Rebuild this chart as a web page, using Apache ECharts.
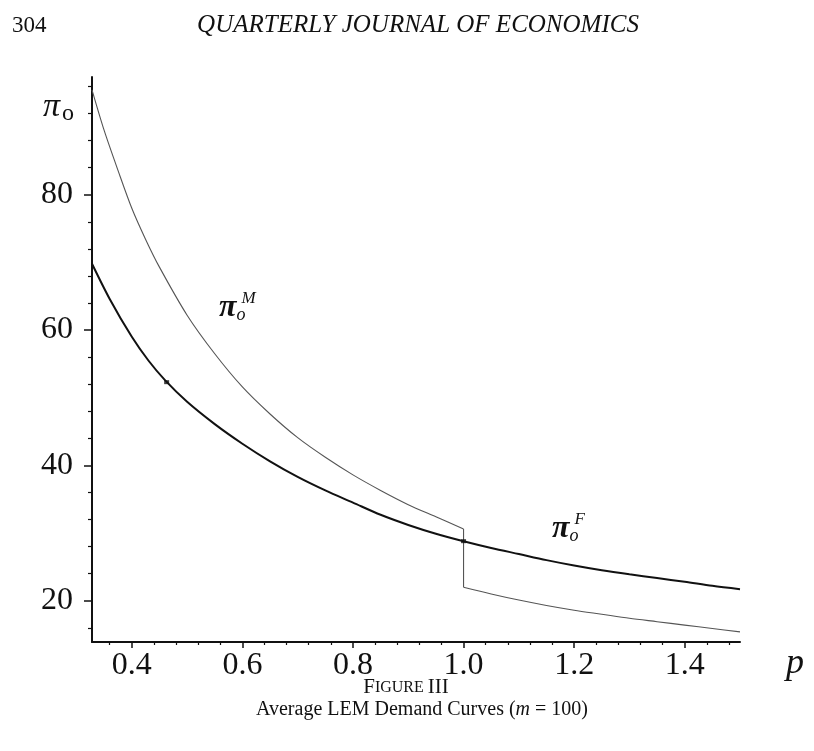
<!DOCTYPE html>
<html>
<head>
<meta charset="utf-8">
<script src="https://cdn.jsdelivr.net/npm/echarts@6/dist/echarts.min.js"></script>
<style>
html,body{margin:0;padding:0;background:#fff;}
#c{width:814px;height:751px;}
</style>
</head>
<body>
<div id="c"></div>
<script>
// ---- data ----
const pF = [0.328, 0.36, 0.40, 0.43, 0.46, 0.50, 0.55, 0.60, 0.65, 0.70, 0.75, 0.80, 0.85, 0.90, 0.95, 1.00, 1.05, 1.10, 1.15, 1.20, 1.25, 1.30, 1.35, 1.40, 1.45, 1.50];
const piF = [69.8, 64.6, 59.0, 55.5, 52.6, 49.4, 46.1, 43.2, 40.6, 38.3, 36.3, 34.5, 32.7, 31.2, 29.9, 28.8, 27.8, 26.9, 26.0, 25.2, 24.5, 23.9, 23.35, 22.8, 22.2, 21.7];

const pMhigh = [0.328, 0.35, 0.375, 0.40, 0.425, 0.45, 0.50, 0.55, 0.60, 0.65, 0.70, 0.75, 0.80, 0.85, 0.90, 0.95, 1.00];
const piMhigh = [95.5, 89.5, 83.6, 78.0, 73.4, 69.3, 62.2, 56.5, 51.6, 47.6, 44.1, 41.2, 38.6, 36.3, 34.2, 32.4, 30.6];
const pMlow = [1.00, 1.05, 1.10, 1.15, 1.20, 1.25, 1.30, 1.35, 1.40, 1.45, 1.50];
const piMlow = [22.0, 21.0, 20.1, 19.3, 18.6, 18.0, 17.4, 16.9, 16.4, 15.9, 15.4];

const xMajor = [0.4, 0.6, 0.8, 1.0, 1.2, 1.4];
const xMinor = [0.36, 0.44, 0.48, 0.52, 0.56, 0.64, 0.68, 0.72, 0.76, 0.84, 0.88, 0.92, 0.96, 1.04, 1.08, 1.12, 1.16, 1.24, 1.28, 1.32, 1.36, 1.44, 1.48];
const yMajor = [20, 40, 60, 80];
const yMinor = [16, 24, 28, 32, 36, 44, 48, 52, 56, 64, 68, 72, 76, 84, 88, 92, 96];

const markP = [0.463, 1.0];
const markV = [52.3, 28.8];

const serif = '"Liberation Serif", "DejaVu Serif", serif';
const ink = '#111';
const greyInk = '#555';

const chart = echarts.init(document.getElementById('c'), null, {renderer: 'canvas'});

const xRange = {min: 0.328, max: 1.5};
const yRange = {min: 13.9, max: 97.4};

chart.setOption({
  animation: false,
  backgroundColor: '#fff',
  grid: {left: 92, top: 77, right: 74, bottom: 109},
  xAxis: [
    {
      type: 'value', ...xRange,
      axisLine: {show: true, lineStyle: {color: ink, width: 2}},
      axisTick: {show: true, customValues: xMajor, length: 6, inside: false, lineStyle: {color: ink, width: 1.5}},
      axisLabel: {show: true, customValues: xMajor, margin: 8, color: ink, fontFamily: serif, fontSize: 32,
        formatter: v => Number(v).toFixed(1)},
      splitLine: {show: false}
    },
    {
      type: 'value', ...xRange, position: 'bottom',
      axisLine: {show: false},
      axisTick: {show: true, customValues: xMinor, length: 3, lineStyle: {color: ink, width: 1.2}},
      axisLabel: {show: false},
      splitLine: {show: false}
    }
  ],
  yAxis: [
    {
      type: 'value', ...yRange,
      axisLine: {show: true, lineStyle: {color: ink, width: 2}},
      axisTick: {show: true, customValues: yMajor, length: 8, lineStyle: {color: ink, width: 1.5}},
      axisLabel: {show: true, customValues: yMajor, margin: 19, color: ink, fontFamily: serif, fontSize: 32},
      splitLine: {show: false}
    },
    {
      type: 'value', ...yRange, position: 'left',
      axisLine: {show: false},
      axisTick: {show: true, customValues: yMinor, length: 4, lineStyle: {color: ink, width: 1.2}},
      axisLabel: {show: false},
      splitLine: {show: false}
    }
  ],
  series: [
    {
      name: 'piM high', type: 'line', xAxisIndex: 0, yAxisIndex: 0,
      data: pMhigh.map((p, i) => [p, piMhigh[i]]),
      showSymbol: false, smooth: 0.3,
      lineStyle: {color: greyInk, width: 1.1},
      z: 2
    },
    {
      name: 'piM jump', type: 'line', xAxisIndex: 0, yAxisIndex: 0,
      data: [[pMhigh[pMhigh.length - 1], piMhigh[piMhigh.length - 1]], [pMlow[0], piMlow[0]]],
      showSymbol: false,
      lineStyle: {color: greyInk, width: 1.1},
      z: 2
    },
    {
      name: 'piM low', type: 'line', xAxisIndex: 0, yAxisIndex: 0,
      data: pMlow.map((p, i) => [p, piMlow[i]]),
      showSymbol: false, smooth: 0.3,
      lineStyle: {color: greyInk, width: 1.1},
      z: 2
    },
    {
      name: 'piF', type: 'line', xAxisIndex: 0, yAxisIndex: 0,
      data: pF.map((p, i) => [p, piF[i]]),
      showSymbol: false, smooth: 0.3,
      lineStyle: {color: ink, width: 2},
      z: 3
    },
    {
      name: 'marks', type: 'scatter', xAxisIndex: 0, yAxisIndex: 0,
      data: markP.map((p, i) => [p, markV[i]]),
      symbol: 'rect', symbolSize: [5, 4],
      itemStyle: {color: ink},
      z: 4
    }
  ],
  graphic: [
    {type: 'text', left: 12, top: 14, style: {text: '304', font: '23px ' + serif, fill: ink}},
    {type: 'text', x: 418, y: 13, style: {text: 'QUARTERLY JOURNAL OF ECONOMICS', font: 'italic 25px ' + serif, fill: ink, align: 'center'}},
    {type: 'text', x: 43, y: 88, style: {
      text: '{a|π}{b|o}', rich: {
        a: {font: 'italic 34px ' + serif, fill: ink},
        b: {font: '24px ' + serif, fill: ink, padding: [14, 0, 0, 2]}
      }}},
    {type: 'text', x: 786, y: 646, style: {text: 'p', font: 'italic 36px ' + serif, fill: ink}},
    {type: 'text', x: 219, y: 290, style: {
      text: '{a|π}{b|o}{c|M}', rich: {
        a: {font: 'italic bold 32px ' + serif, fill: ink},
        b: {font: 'italic 18px ' + serif, fill: ink, padding: [16, 0, 0, 0]},
        c: {font: 'italic 17px ' + serif, fill: ink, padding: [0, 0, 18, -4]}
      }}},
    {type: 'text', x: 552, y: 511, style: {
      text: '{a|π}{b|o}{c|F}', rich: {
        a: {font: 'italic bold 32px ' + serif, fill: ink},
        b: {font: 'italic 18px ' + serif, fill: ink, padding: [16, 0, 0, 0]},
        c: {font: 'italic 17px ' + serif, fill: ink, padding: [0, 0, 18, -4]}
      }}},
    {type: 'text', x: 406, y: 677, style: {
      text: '{a|F}{b|IGURE }{a|III}', align: 'center', rich: {
        a: {font: '21px ' + serif, fill: ink},
        b: {font: '16px ' + serif, fill: ink}
      }}},
    {type: 'text', x: 422, y: 700, style: {
      text: '{a|Average LEM Demand Curves (}{b|m}{a| = 100)}', align: 'center', rich: {
        a: {font: '20px ' + serif, fill: ink},
        b: {font: 'italic 20px ' + serif, fill: ink}
      }}}
  ]
});
</script>
</body>
</html>
